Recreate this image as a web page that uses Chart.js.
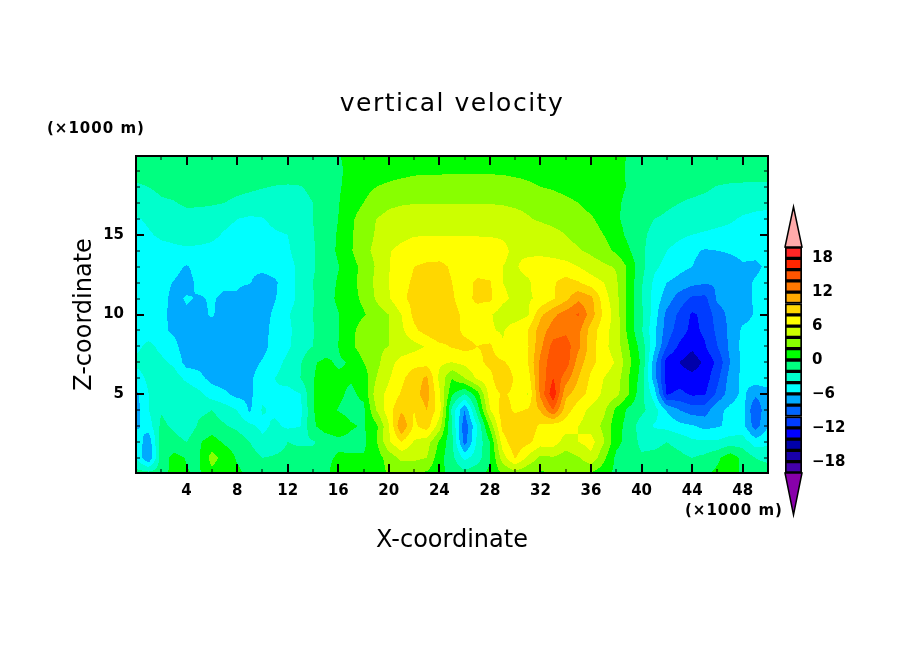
<!DOCTYPE html>
<html>
<head>
<meta charset="utf-8">
<title>vertical velocity</title>
<script src="https://cdn.jsdelivr.net/npm/chart.js@4/dist/chart.umd.min.js"></script>
<style>
  html, body { margin: 0; padding: 0; background: #fff; }
  #wrap { position: relative; width: 904px; height: 654px; overflow: hidden; }
  #main { position: absolute; left: 0; top: 0; }
  #bar { position: absolute; left: 770px; top: 200px; }
</style>
</head>
<body>
<div id="wrap">
  <canvas id="main" width="904" height="654"></canvas>
  <canvas id="bar" width="134" height="320"></canvas>
</div>
<script>
/* ─── Data (x every 1 km, z every 1 km) ── */
const xCols = [0,1,2,3,4,5,6,7,8,9,10,11,12,13,14,15,16,17,18,19,20,21,22,23,24,25,26,27,28,29,30,31,32,33,34,35,36,37,38,39,40,41,42,43,44,45,46,47,48,49,50];
const zLevels = [20,19,18,17,16,15,14,13,12,11,10,9,8,7,6,5,4,3,2,1,0];

const w20 = [-.8,-.8,-.8,-.8,-.8,-.8,-.8,-.8,-.8,-.8, -.8,-.8,-.8,-.8,-.8,-.5,-.1,.4,.8,.9, 1,1,1.1,1.1,1.1,1.1,1.1,1.1,1.1,1.1, 1.1,1,1,1,.9,.9,.8,.6,.3,-.1, -.4,-.6,-.7,-.8,-.8,-.8,-.8,-.8,-.8,-.8,-.8];
const w19 = [-1.2,-1.1,-1,-1,-1,-1,-1,-1,-1,-1, -1,-1,-1,-1,-.8,-.6,-.2,.3,.8,1, 1.2,1.4,1.6,1.7,1.7,1.7,1.7,1.7,1.7,1.7, 1.5,1.4,1.2,1.1,1,.9,.7,.5,.2,-.1, -.1,-.6,-.8,-.9,-1,-1,-1,-1,-1,-1.1,-1.2];
const w18 = [-2.3,-2,-1.7,-1.5,-1.4,-1.4,-1.4,-1.5,-1.6,-1.7, -1.9,-2.1,-2.2,-2.1,-1.6,-1,-.2,.6,1.4,2, 2.4,2.7,3,3.1,3.1,3.2,3.2,3.2,3.2,3, 2.8,2.4,2,1.8,1.5,1.2,1,.7,.3,-.1, -.5,-.8,-1,-1.2,-1.4,-1.7,-2.1,-2.3,-2.4,-2.4,-2.4];
const w17 = [-3,-2.6,-2.2,-2.1,-1.7,-1.7,-1.8,-2,-2.3,-2.6, -2.9,-3,-3,-2.6,-2,-1,-.1,1,2,3, 3.6,3.8,3.9,3.9,3.9,3.9,3.9,3.9,3.9,3.8, 3.6,3.4,3.2,2.8,2.4,2,1.5,.9,.2,-.3, -.8,-1.2,-1.7,-2,-2.3,-2.5,-2.7,-3,-3.3,-3.4,-3.4];
const w16 = [-4.2,-3.7,-3.2,-3,-2.7,-2.8,-3,-3.5,-4,-4.3, -4.1,-3.6,-3.3,-2.6,-2,-1,0,1.6,3,4, 4.6,5,5.4,5.5,5.6,5.6,5.6,5.5,5.4,5.2, 4.8,4.2,3.7,3.3,3,2.6,2.2,1.4,.3,-.7, -1.5,-2,-2.3,-2.6,-2.8,-3,-3.4,-3.8,-4.2,-4.5,-4.8];
const w15 = [-4.8,-4.2,-3.7,-3.5,-3.2,-3.3,-3.6,-4.2,-4.6,-4.7, -4.5,-4.2,-4,-3,-2.1,-1,.2,1.8,3,4.2, 5.3,5.6,5.9,5.9,5.9,5.9,5.9,5.9,5.9,5.9, 5.8,5.5,5.2,4.7,4,3.4,2.8,2,.8,-.5, -1.7,-2.4,-3,-3.6,-4,-4.3,-4.5,-4.5,-4.6,-4.8,-5];
const w14 = [-5,-4.8,-4.6,-4.4,-4.3,-4.4,-4.5,-4.8,-5,-5, -4.9,-4.7,-4.3,-3,-2.2,-1,.3,1.8,3.4,4.5, 5.9,6.4,6.8,7,7.2,7.2,7.1,6.9,6.6,6.2, 5.8,5.6,5.5,5.2,4.7,4.2,3.6,2.8,1.6,.2, -1.6,-3,-4,-4.8,-5.6,-6.2,-6,-5.8,-5.5,-5.4,-5.3];
const w13 = [-5.1,-5,-5,-5.4,-6.2,-5.2,-5.3,-5.5,-5.6,-5.7, -5.5,-5.2,-4.8,-3.4,-2.2,-1.2,-.1,1.2,2.6,4.2, 5.9,7,8,8.4,8.4,7.8,7.3,7,6.8,6, 5.8,6.6,7,7,6.8,6,5,4.4,3.8,1.5, -1.4,-3.6,-4.6,-5.4,-6,-6.8,-7.2,-6.8,-6.2,-6.4,-5.6];
const w12 = [-5.2,-5.2,-5.4,-6.1,-6.8,-5.4,-5.4,-5.6,-5.8,-5.9, -6.8,-6.3,-4.8,-3.4,-2,-.9,.2,1.5,2.6,4.5, 6,7.4,8.3,8.7,8.7,8,7.2,8.4,8.2,6, 5.5,5.7,7,7.8,8.7,8.2,7,6,4.3,1.3, -1.8,-4.4,-6,-6.7,-7.4,-7.8,-7.8,-7.2,-6.6,-5.8,-5.2];
const w11 = [-5.2,-5.2,-5.3,-6.6,-5.8,-6.2,-5.8,-6.4,-6.2,-7, -7.4,-6.1,-4.9,-3.4,-2.1,-.9,.4,1.3,2.4,4.2, 5.8,7.6,8.6,9,9,8.2,7.2,8.5,8.4,6.4, 5.6,5.8,6.3,7.8,9.4,11.6,10.6,7,4.6,1.3, -2,-4.8,-7,-9,-10.4,-10.6,-7.6,-7.1,-6.6,-5.8,-5];
const w10 = [-5.2,-5.2,-5.5,-6.6,-6.3,-6.5,-5.8,-6.8,-7.2,-7.4, -7,-5.5,-4.2,-3,-2,-1,-.1,1,1.8,3, 4,6,8.5,9.2,9.3,8.6,7.6,7,6.2,5.2, 5,5.8,9.6,11.5,13,14.2,11,7.6,5,1, -1.5,-5,-8.6,-10.4,-12.3,-11.5,-9,-7.4,-6.8,-5.8,-5];
const w9  = [-5,-5,-5.5,-6.4,-6.6,-6.2,-6.8,-7,-7.6,-7.4, -6.8,-5.2,-4.5,-3,-2.1,-1,-.1,1.4,3,3.6, 4,5.6,7.6,8.8,10,8.8,7.6,7.2,6.2,5.8, 7,8,11,13,13.6,12.6,9,6.8,5,1.2, -1.8,-5.5,-9,-11,-12.6,-11.6,-9.5,-7.6,-5.6,-5.3,-5];
const w8  = [-4.5,-3.5,-4.5,-5.4,-7.2,-6.8,-7.4,-7.4,-7.6,-7.4, -6.8,-5,-4.3,-3,-2,-1,0,1.6,3,3.6, 4,4.6,5.3,6.2,7.4,8.2,8.6,8,8.4,6.2, 6.4,7.8,11.5,14.8,15,12.5,9,6.6,5,2, -.8,-5.5,-10,-12.4,-13.5,-12.2,-10,-7.5,-5.4,-4.8,-4.4];
const w7  = [-3.5,-3.2,-3.6,-4.4,-6.8,-6.6,-7,-7.6,-7.4,-7, -5.8,-4.6,-3.6,-2.2,-.2,.4,-.3,.2,2,3.4, 5.2,6.8,7.4,7.2,6.4,6,6.6,7.4,8.6,8.3, 7,8,12.5,15.5,15.2,11,8.6,7,5.8,2.5, -.4,-7,-13,-14,-15.2,-13.5,-11.5,-8,-5.5,-4.5,-4];
const w6  = [-5,-3.5,-2.8,-3,-4.5,-5.5,-6.6,-7,-6.8,-6.5, -4.6,-4,-3.2,-2,-.1,.8,.4,.2,.8,4, 5.8,7.6,9,10.4,5.5,2,4,6.4,7.3,10, 7.6,7,12.5,16,13,10,7.6,6,5,2, -.8,-7,-13,-13,-13.2,-13,-10.5,-7.2,-5.5,-5,-4.5];
const w5  = [-6.5,-4,-3,-3,-2.5,-3.5,-5,-5.6,-6.6,-6.5, -4.4,-4.2,-4.8,-4.1,-.1,1,.4,-.4,.5,5, 6.6,8.2,9.2,11,6.4,.3,-2,1,7,8.2, 7.6,5.9,12.5,17.5,10.5,9,7.2,5.6,4.6,2, -1.4,-5,-12.2,-11.5,-12.3,-12.2,-9.5,-7,-5.5,-7.5,-7];
const w4  = [-7,-4,-2.2,-3,-3.5,-2.5,-2,-3,-4,-6.3, -3.8,-4.4,-5,-4.6,-.1,1,-.1,-.6,-.5,4, 7.2,9.6,8,10,7,-2.5,-8,-1,5.9,9, 7.6,8.2,10.2,14,9,6.8,5.5,4.5,1.5,-.5, -1.5,-3,-6.2,-8,-9,-9,-6.5,-5.5,-5,-10,-6];
const w3  = [-6.5,-5,-1.5,-2.4,-3.5,-1.6,-1,-1.8,-2.5,-3.6, -4.5,-3.6,-4.4,-4.1,-.3,1,1.2,.2,-.2,1.5, 5.8,12,7.6,9,5,-2,-9.5,-4,2.5,8.6, 9.8,9.2,7.6,7,6.8,6,5.2,3.5,.8,-.8, -3,-4.2,-4.6,-5.4,-5.8,-6.6,-6.2,-5.6,-5.3,-9,-6];
const w2  = [-4.5,-7.4,-1,-1.2,-2,-.2,.8,-.3,-.8,-2, -3.5,-2.8,-2,-2.2,-2.2,-1.2,-.5,-.5,-.5,1.7, 5.7,8,5.8,5,1.7,-1.5,-9,-3.5,0,7, 9.5,8.5,7,7,5.2,6,6.8,4.2,.6,-.8, -2.5,-2.5,-2,-2.6,-3.6,-3.7,-3.7,-3,-3,-5,-4.5];
const w1  = [-4,-8,-1,.6,-.1,-.2,2.8,1.2,-.2,-1, -2,-1.8,-1.6,-1.5,-1.4,-.5,.3,.2,.2,1, 2.8,4.5,4.5,4,.8,-1.4,-4.5,-3,-.2,5, 8.2,5.5,3.5,3.8,3,3.8,5.5,2.5,-.5,-1.3, -1.7,-1.5,-1.2,-1.5,-2,-1.5,-.4,1.2,-.5,-2,-2.5];
const w0  = [-1,-1,-1,.8,.1,-.2,1.4,.5,.4,-.4, -1,-1,-1,-.8,.2,-.4,1,.6,.5,1, 2.2,2.2,2,1.6,.5,-.5,-1.2,-.5,.5,2, 3,2.2,1.7,1.8,2,2,1.6,.8,-.5,-.4, .3,-.6,-1,-1.2,-1.2,-.4,.5,1.2,-.5,-1,-1];
const wRows = [w20,w19,w18,w17,w16,w15,w14,w13,w12,w11,w10,w9,w8,w7,w6,w5,w4,w3,w2,w1,w0];

const xTickLabels = [4,8,12,16,20,24,28,32,36,40,44,48];
const xMinorTicks = [2,6,10,14,18,22,26,30,34,38,42,46];
const zTickLabels = [5,10,15];
const zMinorTicks = [1,2,3,4,6,7,8,9,11,12,13,14,16,17,18,19];
const barTicks = [-18,-12,-6,0,6,12,18];

// bands from -20 upward, 2 m/s wide
const bandEdges = [-20,-18,-16,-14,-12,-10,-8,-6,-4,-2,0,2,4,6,8,10,12,14,16,18,20];
const bandColors = ['#4400aa','#1900aa','#0000aa','#0000ff','#003cff','#0064ff','#00aaff','#00ffff','#00ffcc','#00ff80',
                    '#00ff00','#88ff00','#ccff00','#ffff00','#ffd700','#ffaa00','#ff7800','#ff5500','#ff2600','#ff2626'];
const lowArrowColor = '#8800aa';
const highArrowColor = '#ffaaaa';

const FONT = "'DejaVu Sans', sans-serif";

/* ─── Filled contours ─────────────────────────────────── */
function rgbOf(hex) {
  return [1, 3, 5].map(i => parseInt(hex.slice(i, i + 2), 16));
}
const bandRgb = bandColors.map(rgbOf);

const contourPlugin = {
  id: 'contour',
  beforeDatasetsDraw(chart) {
    const { ctx, chartArea: a, scales: { x: sx, y: sy } } = chart;
    const vals = chart.data.datasets[0].data;
    const nc = xCols.length;
    const L = Math.round(a.left), T = Math.round(a.top);
    const W = Math.round(a.right) - L, H = Math.round(a.bottom) - T;
    const img = ctx.createImageData(W, H);
    for (let py = 0; py < H; py++) {
      const z = sy.getValueForPixel(T + py + 0.5);
      const r = Math.min(Math.max(Math.floor(20 - z), 0), zLevels.length - 2);
      const tz = (zLevels[r] - z) / (zLevels[r] - zLevels[r + 1]);
      for (let px = 0; px < W; px++) {
        const x = sx.getValueForPixel(L + px + 0.5);
        const c = Math.min(Math.max(Math.floor(x), 0), nc - 2);
        const tx = (x - xCols[c]) / (xCols[c + 1] - xCols[c]);
        const top = vals[r * nc + c].v * (1 - tx) + vals[r * nc + c + 1].v * tx;
        const bot = vals[(r + 1) * nc + c].v * (1 - tx) + vals[(r + 1) * nc + c + 1].v * tx;
        const v = top * (1 - tz) + bot * tz;
        const b = Math.min(Math.max(Math.floor((v + 20) / 2), 0), bandRgb.length - 1);
        const k = (py * W + px) * 4;
        img.data[k] = bandRgb[b][0];
        img.data[k + 1] = bandRgb[b][1];
        img.data[k + 2] = bandRgb[b][2];
        img.data[k + 3] = 255;
      }
    }
    ctx.putImageData(img, L, T);
  }
};

/* ─── Frame, inward ticks, title, unit notes ──────────── */
const framePlugin = {
  id: 'frame',
  afterDraw(chart) {
    const { ctx, chartArea: a, scales: { x: sx, y: sy } } = chart;
    ctx.save();
    ctx.strokeStyle = '#000';
    const vTick = (v, len, w) => {
      const p = Math.round(sx.getPixelForValue(v));
      ctx.lineWidth = w;
      ctx.beginPath();
      ctx.moveTo(p, a.bottom); ctx.lineTo(p, a.bottom - len);
      ctx.moveTo(p, a.top); ctx.lineTo(p, a.top + len);
      ctx.stroke();
    };
    const hTick = (v, len, w) => {
      const p = Math.round(sy.getPixelForValue(v));
      ctx.lineWidth = w;
      ctx.beginPath();
      ctx.moveTo(a.left, p); ctx.lineTo(a.left + len, p);
      ctx.moveTo(a.right, p); ctx.lineTo(a.right - len, p);
      ctx.stroke();
    };
    xTickLabels.forEach(v => vTick(v, 9, 2));
    xMinorTicks.forEach(v => vTick(v, 4, 1));
    zTickLabels.forEach(v => hTick(v, 8, 2));
    zMinorTicks.forEach(v => hTick(v, 4, 1));
    ctx.lineWidth = 2;
    ctx.strokeRect(a.left, a.top, a.right - a.left, a.bottom - a.top);

    ctx.fillStyle = '#000';
    ctx.textBaseline = 'middle';
    ctx.textAlign = 'left';
    ctx.font = 'bold 15px ' + FONT;
    ctx.letterSpacing = '1px';
    ctx.fillText('(×1000 m)', 47, 129);
    ctx.fillText('(×1000 m)', 685, 511);
    ctx.textAlign = 'center';
    ctx.font = '25px ' + FONT;
    ctx.letterSpacing = '1.5px';
    ctx.fillText('vertical velocity', 452, 104);
    ctx.restore();
  }
};

/* ─── Main chart ──────────────────────────────────────── */
const gridPoints = [];
wRows.forEach((row, r) => row.forEach((v, c) => gridPoints.push({ x: xCols[c], y: zLevels[r], v })));

new Chart(document.getElementById('main'), {
  type: 'scatter',
  data: { datasets: [{ data: gridPoints, pointRadius: 0, pointHoverRadius: 0 }] },
  options: {
    responsive: false,
    animation: false,
    devicePixelRatio: 1,
    layout: { padding: { left: 0, right: 136, top: 156, bottom: 0 } },
    plugins: {
      legend: { display: false },
      tooltip: { enabled: false },
      title: { display: false }
    },
    scales: {
      x: {
        type: 'linear', min: 0, max: 50,
        grid: { display: false }, border: { display: false },
        afterBuildTicks: s => { s.ticks = xTickLabels.map(value => ({ value })); },
        afterFit: s => { s.height = 181; },
        ticks: { color: '#000', font: { family: FONT, size: 15, weight: 'bold' }, maxRotation: 0, padding: 1, autoSkip: false },
        title: { display: true, text: 'X-coordinate', color: '#000', font: { family: FONT, size: 24, weight: 'normal' }, padding: { top: 0, bottom: 99 } }
      },
      y: {
        type: 'linear', min: 0.05, max: 19.95,
        grid: { display: false }, border: { display: false },
        afterBuildTicks: s => { s.ticks = zTickLabels.map(value => ({ value })); },
        afterFit: s => { s.width = 136; },
        ticks: { color: '#000', font: { family: FONT, size: 15, weight: 'bold' }, padding: 4, autoSkip: false },
        title: { display: true, text: 'Z-coordinate', color: '#000', font: { family: FONT, size: 24, weight: 'normal' }, padding: { top: 70, bottom: 0 } }
      }
    }
  },
  plugins: [contourPlugin, framePlugin]
});

/* ─── Colour bar ──────────────────────────────────────── */
const arrowPlugin = {
  id: 'arrows',
  afterDatasetsDraw(chart) {
    const { ctx, chartArea: a, scales: { y } } = chart;
    const mid = (a.left + a.right) / 2;
    const tri = (base, tip, color) => {
      ctx.beginPath();
      ctx.moveTo(a.left, y.getPixelForValue(base));
      ctx.lineTo(a.right, y.getPixelForValue(base));
      ctx.lineTo(mid, y.getPixelForValue(tip));
      ctx.closePath();
      ctx.fillStyle = color;
      ctx.fill();
      ctx.lineWidth = 1.5;
      ctx.strokeStyle = '#000';
      ctx.stroke();
    };
    tri(20, 27.1, highArrowColor);
    tri(-20, -27.4, lowArrowColor);
  }
};

new Chart(document.getElementById('bar'), {
  type: 'bar',
  data: {
    labels: ['w'],
    datasets: bandColors.map((c, i) => ({
      data: [[bandEdges[i], bandEdges[i + 1]]],
      backgroundColor: c, borderColor: '#000', borderWidth: 2, borderSkipped: false,
      barPercentage: 1, categoryPercentage: 1, grouped: false
    }))
  },
  options: {
    responsive: false,
    animation: false,
    devicePixelRatio: 1,
    layout: { padding: { left: 15, right: 0, top: 47, bottom: 47 } },
    plugins: { legend: { display: false }, tooltip: { enabled: false }, title: { display: false } },
    scales: {
      x: { display: false },
      y: {
        position: 'right', min: -20, max: 20,
        grid: { display: false }, border: { display: false },
        afterBuildTicks: s => { s.ticks = barTicks.map(value => ({ value })); },
        afterFit: s => { s.width = 102; },
        ticks: { color: '#000', font: { family: FONT, size: 15, weight: 'bold' }, padding: 2, autoSkip: false,
                 callback: v => String(v).replace('-', '\u2212') }
      }
    }
  },
  plugins: [arrowPlugin]
});
</script>
</body>
</html>
